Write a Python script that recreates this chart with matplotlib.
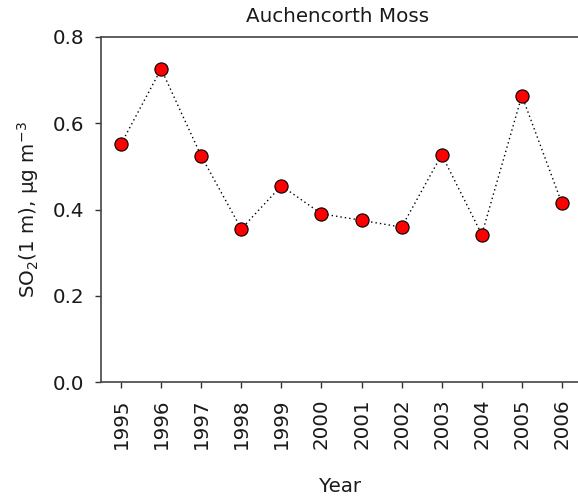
import matplotlib
matplotlib.use("Agg")
import matplotlib.pyplot as plt

years = [1995, 1996, 1997, 1998, 1999, 2000, 2001, 2002, 2003, 2004, 2005, 2006]
so2 = [0.552, 0.726, 0.524, 0.355, 0.455, 0.390, 0.375, 0.359, 0.527, 0.342, 0.664, 0.414]
yticks = [0.0, 0.2, 0.4, 0.6, 0.8]
ytick_labels = ["0.0", "0.2", "0.4", "0.6", "0.8"]

fs = 14.3
fig = plt.figure(figsize=(5.78, 5.0), dpi=100)
ax = fig.add_axes([101/578, 1-382/500, (582-101)/578, (382-37)/500])

ax.plot(years, so2, linestyle=(0, (1, 2.2)), color="black", linewidth=1.0,
        marker="o", markersize=9.5, markerfacecolor="red", markeredgecolor="black",
        markeredgewidth=0.8)

ax.set_xlim(1994.5, 2006.5)
ax.set_ylim(0.0, 0.8)
ax.set_xticks(years)
ax.set_xticklabels([str(y) for y in years], rotation=90, fontsize=fs, color="#1a1a1a")
ax.set_yticks(yticks)
ax.set_yticklabels(ytick_labels, fontsize=fs, color="#1a1a1a")
ax.tick_params(axis="both", direction="out", length=4, width=1, color="#333333")
ax.tick_params(axis="x", pad=8)
ax.tick_params(axis="y", pad=8)

ax.spines["right"].set_visible(False)
for s in ["left", "bottom", "top"]:
    ax.spines[s].set_color("#444444")
    ax.spines[s].set_linewidth(1.2)

fig.text(338/578, 1-17/500, "Auchencorth Moss", fontsize=fs, color="#1a1a1a",
         ha="center", va="center")
fig.text(28/578, 1-210/500, r"SO$_2$(1 m), µg m$^{-3}$", rotation=90, fontsize=fs,
         color="#1a1a1a", ha="center", va="center")
fig.text(340/578, 1-486/500, "Year", fontsize=fs, color="#1a1a1a", ha="center", va="center")

fig.savefig("out.png", dpi=100)
